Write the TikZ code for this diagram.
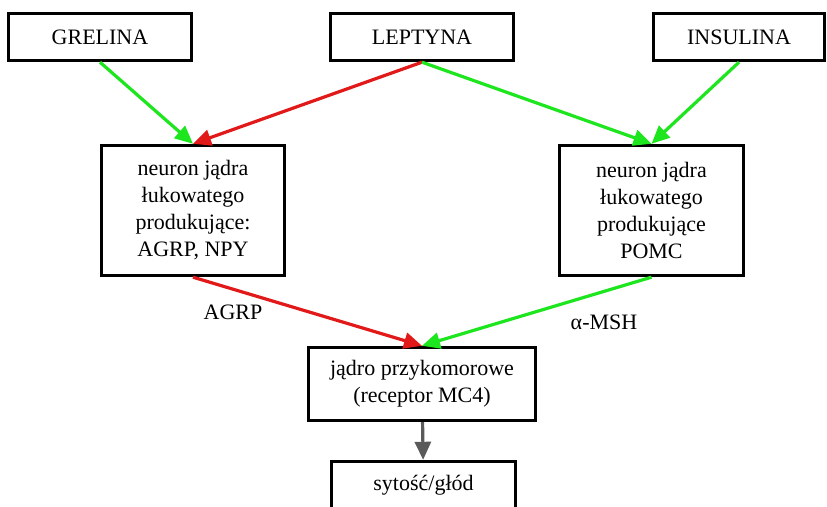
\documentclass[tikz,border=0pt]{standalone}
\usepackage{fontspec}
\setmainfont{LiberationSerif-Regular.ttf}
\usetikzlibrary{arrows.meta}
\definecolor{actgreen}{RGB}{30,230,30}
\definecolor{inhred}{RGB}{225,25,25}
\definecolor{outgray}{RGB}{90,90,90}

\begin{document}
\begin{tikzpicture}[x=0.5pt,y=-0.5pt,font=\fontsize{11}{13.5}\selectfont,
    box/.style={draw,line width=1.7pt,align=center,inner sep=0pt},
    hbox/.style={box,minimum width=91.5pt,minimum height=23.5pt},
    nbox/.style={box,minimum width=91.5pt,minimum height=65pt},
    conn/.style={-{Triangle[length=9pt,width=8pt]},line width=1.6pt},
    act/.style={conn,draw=actgreen},
    inh/.style={conn,draw=inhred}]
  \useasboundingbox (0,0) rectangle (827,507);
  \clip (0,0) rectangle (827,507);
  \fill[white] (0,0) rectangle (827,507);
  % hormones
  \node[hbox] (grel) at (100,37) {GRELINA};
  \node[hbox] (lept) at (422,37) {LEPTYNA};
  \node[hbox,minimum width=85.5pt] (insu) at (739,37) {INSULINA};
  % arcuate neurons
  \node[nbox] (agrpn) at (193,210.5) {neuron jądra\\łukowatego\\produkujące:\\AGRP, NPY};
  \node[nbox,minimum width=92pt] (pomcn) at (651.5,210.5) {neuron jądra\\łukowatego\\produkujące\\POMC};
  % paraventricular nucleus and output
  \node[box,minimum width=113.5pt,minimum height=36.5pt] (pvn) at (422,384) {jądro przykomorowe\\(receptor MC4)};
  \node[hbox,minimum width=92pt] (out) at (423.5,485) {sytość/głód};
  % connectors
  \draw[act] (grel.south) -- (agrpn.north);
  \draw[inh] (lept.south) -- (agrpn.north);
  \draw[act] (lept.south) -- (pomcn.north);
  \draw[act] (insu.south) -- (pomcn.north);
  \draw[inh] (agrpn.south) -- (pvn.north);
  \draw[act] (pomcn.south) -- (pvn.north);
  \draw[conn,draw=outgray] (pvn) -- (out);
  \node (agrpl) at (233,312) {AGRP};
  \node (amshl) at (604,322) {α-MSH};
\end{tikzpicture}
\end{document}
